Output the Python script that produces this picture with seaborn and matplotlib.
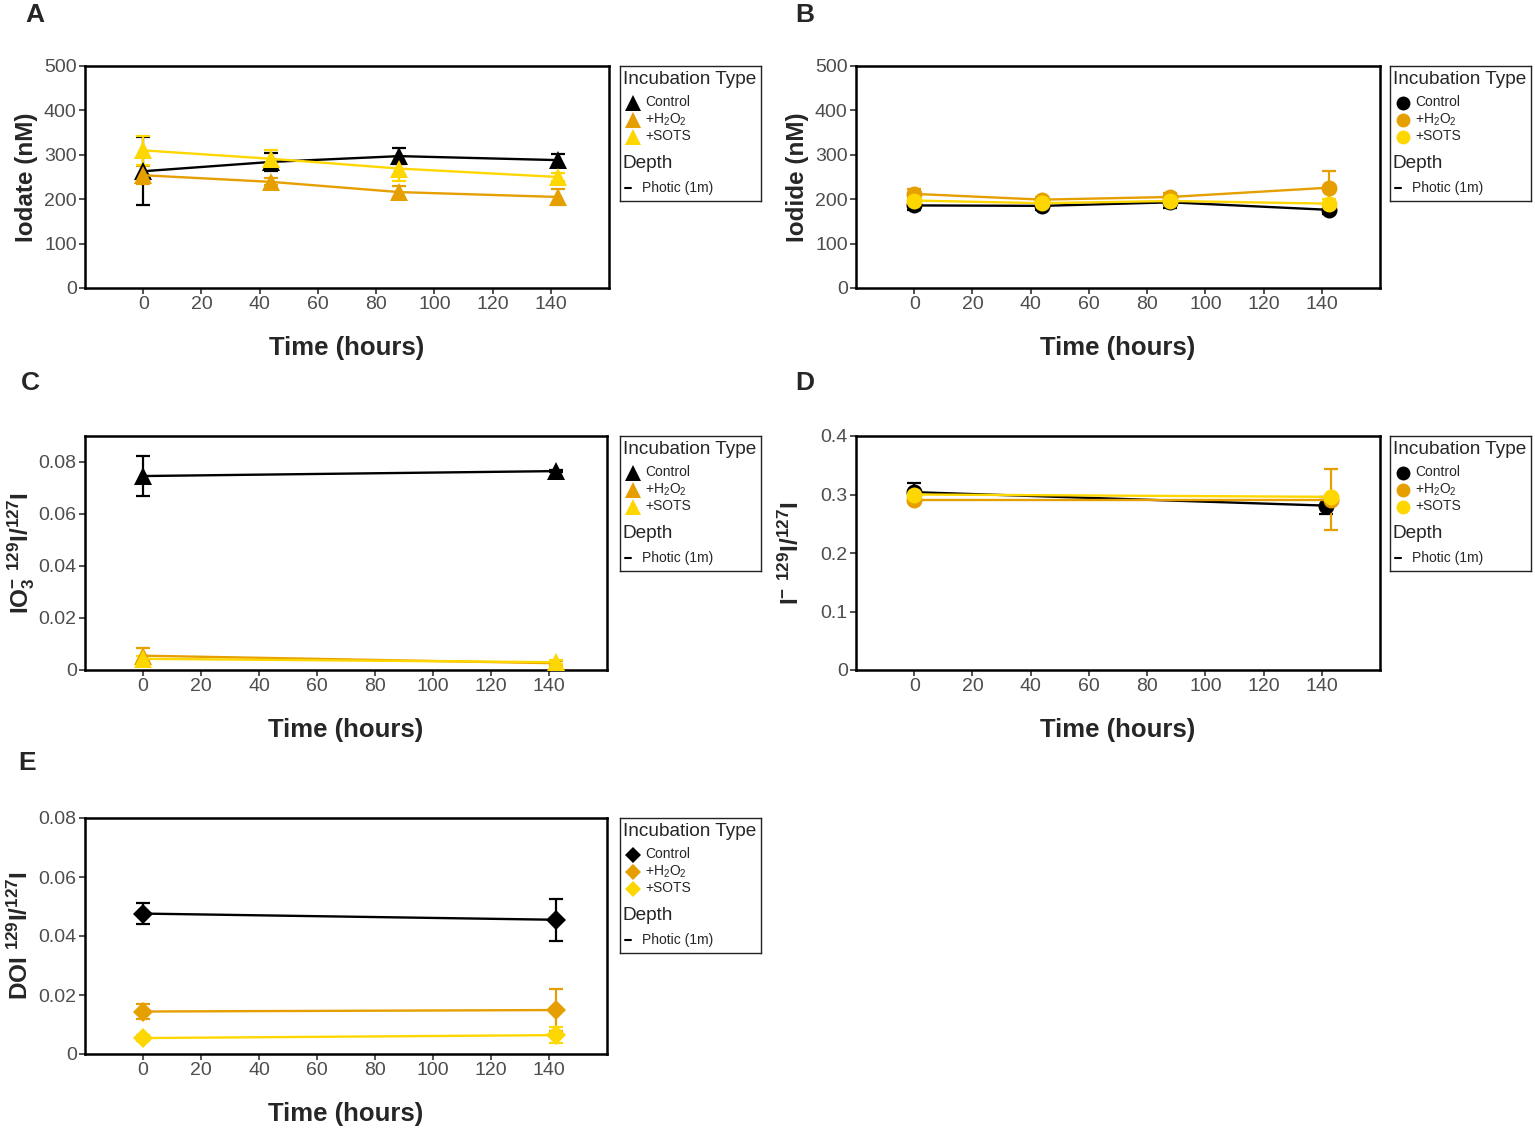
import numpy as np
import pandas as pd
import matplotlib
matplotlib.use("Agg")
import matplotlib.pyplot as plt
import seaborn as sns
from matplotlib.ticker import FuncFormatter

W, H = 1535, 1130

TREATMENTS = ['Control', 'H2O2', 'SOTS']
TREAT_LABELS = ['Control', '+H$_2$O$_2$', '+SOTS']
PALETTE = {'Control': '#000000', 'H2O2': '#E69F00', 'SOTS': '#FFD700'}
MARKER_SIZE = {'^': 13, 'o': 11.5, 'D': 10}

# sampling times (hours)
time_4 = [0, 44, 88, 142.5]
time_2 = [0, 142.5]

# A - iodate (nM)
iodate_ctrl = [263, 284, 297, 288]
iodate_ctrl_sd = [76, 21, 18, 13]
iodate_h2o2 = [254, 239, 216, 205]
iodate_h2o2_sd = [20, 8, 14, 19]
iodate_sots = [310, 291, 269, 250]
iodate_sots_sd = [32, 19, 28, 8]

# B - iodide (nM)
iodide_ctrl = [186, 185, 193, 176]
iodide_ctrl_sd = [10, 9, 12, 10]
iodide_h2o2 = [212, 199, 205, 226]
iodide_h2o2_sd = [11, 6, 8, 37]
iodide_sots = [197, 191, 196, 190]
iodide_sots_sd = [8, 6, 6, 10]

# C - IO3- 129I/127I
io3_ctrl = [0.0746, 0.0765]
io3_ctrl_sd = [0.0078, 0.0005]
io3_h2o2 = [0.0055, 0.0026]
io3_h2o2_sd = [0.003, 0.001]
io3_sots = [0.0043, 0.0030]
io3_sots_sd = [0.001, 0.0008]

# D - I- 129I/127I
iod_ctrl = [0.304, 0.281]
iod_ctrl_sd = [0.016, 0.015]
iod_h2o2 = [0.291, 0.291]
iod_h2o2_sd = [0.003, 0.052]
iod_sots = [0.300, 0.296]
iod_sots_sd = [0.003, 0.003]
time_d_ctrl = [0, 141.5]
time_d_other = [0, 143]

# E - DOI 129I/127I
doi_ctrl = [0.0476, 0.0455]
doi_ctrl_sd = [0.0035, 0.0072]
doi_h2o2 = [0.0144, 0.0149]
doi_h2o2_sd = [0.0027, 0.0072]
doi_sots = [0.0054, 0.0064]
doi_sots_sd = [0.001, 0.0026]


def make_df(times, values, sds):
    rows = []
    for t_name, t, v, s in zip(TREATMENTS, times, values, sds):
        for ti, vi, si in zip(t, v, s):
            rows.append({'time': ti, 'value': vi, 'sd': si, 'treatment': t_name})
    return pd.DataFrame(rows)


def px_axes(fig, left, top, right, bottom):
    return fig.add_axes([left / W, 1 - bottom / H, (right - left) / W, (bottom - top) / H])


def draw_panel(ax, df, marker, ylim, yticks, ylabel, ylabelpad=4):
    for t_name in TREATMENTS:
        sub = df[df.treatment == t_name]
        ax.errorbar(sub.time, sub.value, yerr=sub.sd, fmt='none',
                    ecolor=PALETTE[t_name], elinewidth=1.6, capsize=5, capthick=1.6, zorder=2)
    sns.lineplot(data=df, x='time', y='value', hue='treatment', hue_order=TREATMENTS,
                 palette=PALETTE, marker=marker, markersize=MARKER_SIZE[marker],
                 markeredgewidth=0, linewidth=1.7, legend=False, ax=ax, errorbar=None,
                 estimator=None, sort=True, zorder=3)
    ax.set_xlim(-20, 160)
    ax.set_xticks(range(0, 141, 20))
    ax.set_ylim(*ylim)
    ax.set_yticks(yticks)
    ax.yaxis.set_major_formatter(FuncFormatter(lambda v, p: f'{v:g}'))
    ax.tick_params(axis='both', direction='out', length=4, width=1.2, color='#333333',
                   labelsize=14, labelcolor='#4D4D4D', pad=2, bottom=True, left=True)
    for sp in ax.spines.values():
        sp.set_linewidth(1.8)
        sp.set_color('black')
    ax.set_xlabel('Time (hours)', fontsize=18.5, fontweight='bold', labelpad=16)
    ax.set_ylabel(ylabel, fontsize=17.5, fontweight='bold', labelpad=ylabelpad)
    ax.grid(False)


def draw_legend(fig, left, top, marker):
    lw, lh = 141, 135
    lax = px_axes(fig, left, top, left + lw, top + lh)
    lax.set_xlim(0, lw)
    lax.set_ylim(lh, 0)
    lax.set_xticks([])
    lax.set_yticks([])
    for sp in lax.spines.values():
        sp.set_linewidth(1.0)
        sp.set_color('#222222')
    lax.text(3, 13, 'Incubation Type', fontsize=13.7, va='center', ha='left')
    ms = MARKER_SIZE[marker] - 1.5
    for i, (t_name, lab) in enumerate(zip(TREATMENTS, TREAT_LABELS)):
        y = 36.5 + i * 17
        lax.plot([13], [y], marker=marker, color=PALETTE[t_name], ms=ms, mew=0)
        lax.text(25, y, lab, fontsize=10, va='center', ha='left')
    lax.text(3, 98, 'Depth', fontsize=13.7, va='center', ha='left')
    lax.plot([5, 11], [122, 122], color='black', lw=1.5)
    lax.text(22, 122, 'Photic (1m)', fontsize=10, va='center', ha='left')


sns.set_theme(style='white')
plt.rcParams['font.family'] = ['Liberation Sans', 'DejaVu Sans']
plt.rcParams['mathtext.fontset'] = 'custom'
plt.rcParams['mathtext.rm'] = 'Liberation Sans'
plt.rcParams['mathtext.bf'] = 'Liberation Sans:bold'
plt.rcParams['mathtext.it'] = 'Liberation Sans:italic'

fig = plt.figure(figsize=(W / 100, H / 100), dpi=100)

# A
ax = px_axes(fig, 85, 66, 609, 288)
df = make_df([time_4] * 3, [iodate_ctrl, iodate_h2o2, iodate_sots],
             [iodate_ctrl_sd, iodate_h2o2_sd, iodate_sots_sd])
draw_panel(ax, df, '^', (0, 500), range(0, 501, 100), 'Iodate (nM)')
draw_legend(fig, 620, 66, '^')

# B
ax = px_axes(fig, 856, 66, 1380, 288)
df = make_df([time_4] * 3, [iodide_ctrl, iodide_h2o2, iodide_sots],
             [iodide_ctrl_sd, iodide_h2o2_sd, iodide_sots_sd])
draw_panel(ax, df, 'o', (0, 500), range(0, 501, 100), 'Iodide (nM)')
draw_legend(fig, 1390, 66, 'o')

# C
ax = px_axes(fig, 85, 436, 607, 670)
df = make_df([time_2] * 3, [io3_ctrl, io3_h2o2, io3_sots],
             [io3_ctrl_sd, io3_h2o2_sd, io3_sots_sd])
draw_panel(ax, df, '^', (0, 0.09), [0, 0.02, 0.04, 0.06, 0.08],
           r'$\mathbf{IO_3^{-}\ {}^{129}I/{}^{127}I}$', ylabelpad=1)
draw_legend(fig, 620, 436, '^')

# D
ax = px_axes(fig, 856, 436, 1380, 670)
df = make_df([time_d_ctrl, time_d_other, time_d_other], [iod_ctrl, iod_h2o2, iod_sots],
             [iod_ctrl_sd, iod_h2o2_sd, iod_sots_sd])
draw_panel(ax, df, 'o', (0, 0.4), [0, 0.1, 0.2, 0.3, 0.4],
           r'$\mathbf{I^{-}\ {}^{129}I/{}^{127}I}$', ylabelpad=12)
draw_legend(fig, 1390, 436, 'o')

# E
ax = px_axes(fig, 85, 818, 607, 1054)
df = make_df([time_2] * 3, [doi_ctrl, doi_h2o2, doi_sots],
             [doi_ctrl_sd, doi_h2o2_sd, doi_sots_sd])
draw_panel(ax, df, 'D', (0, 0.08), [0, 0.02, 0.04, 0.06, 0.08],
           r'$\mathbf{DOI\ {}^{129}I/{}^{127}I}$', ylabelpad=4)
draw_legend(fig, 620, 818, 'D')

for letter, x, y in [('A', 35, 15), ('B', 805, 15), ('C', 30, 383), ('D', 805, 383), ('E', 27, 763)]:
    fig.text(x / W, 1 - y / H, letter, fontsize=19, fontweight='bold', ha='center', va='center')

fig.savefig('out.png', dpi=100)
